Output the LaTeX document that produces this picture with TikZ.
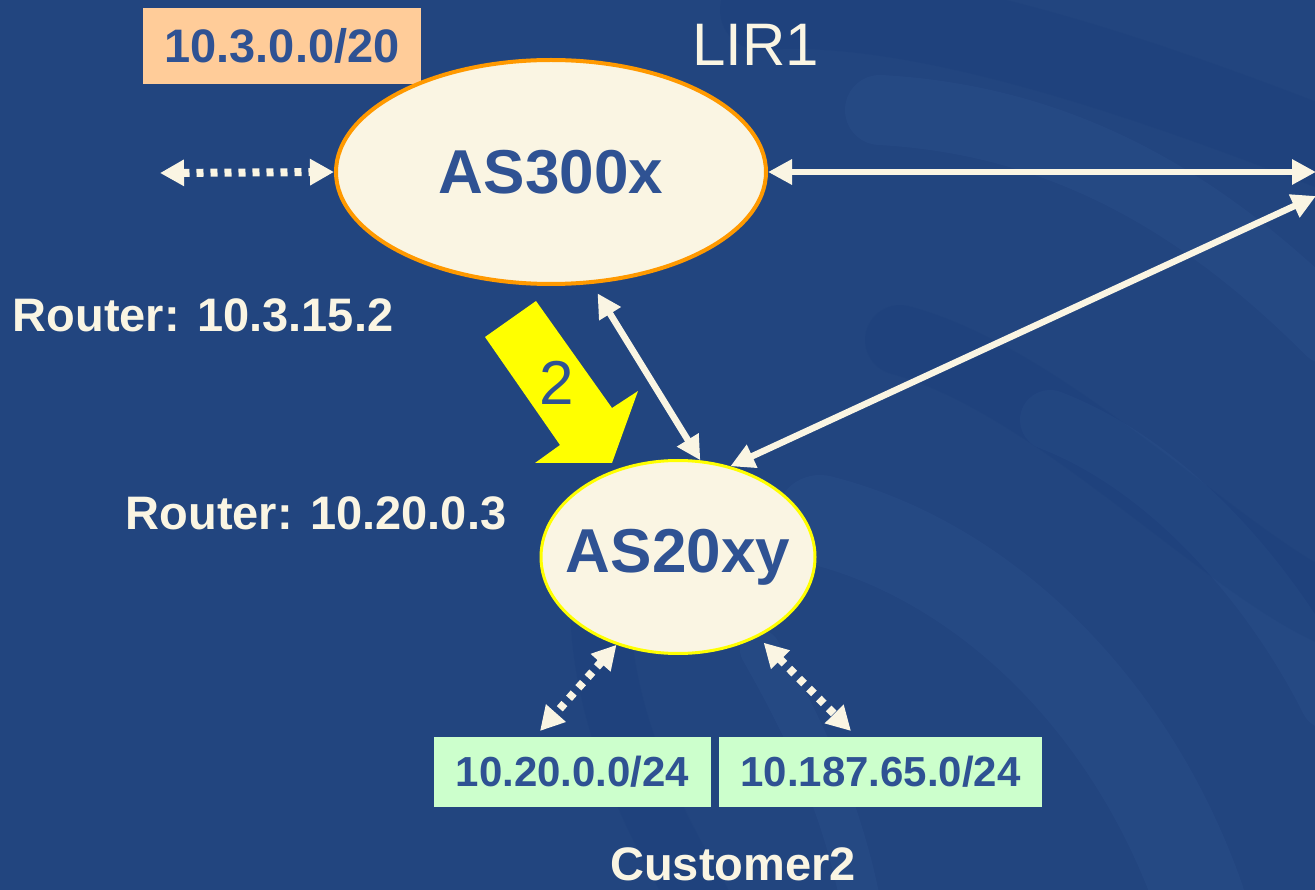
\documentclass[tikz,border=0pt]{standalone}
\usepackage{fontspec}
\setmainfont{Liberation Sans}
\usetikzlibrary{arrows.meta,shapes.geometric,calc}

\definecolor{slide}{HTML}{22457F}
\definecolor{slidedark}{HTML}{153876}
\definecolor{slidelight}{HTML}{3A5E9E}
\definecolor{cream}{HTML}{FAF5E3}
\definecolor{ink}{HTML}{2F5293}
\definecolor{peach}{HTML}{FFCC99}
\definecolor{mint}{HTML}{CCFFCC}
\definecolor{asorange}{HTML}{FF9900}
\definecolor{hiyellow}{HTML}{FFFF00}

\newcommand{\fs}[1]{\fontsize{#1}{#1}\selectfont}
% centred text that does not widen its ellipse
\newcommand{\astext}[1]{\makebox[0pt]{#1}}

\tikzset{
  asnode/.style={ellipse, fill=cream, inner sep=0pt, text=ink,
                 font=\fs{62}\bfseries},
  netbox/.style={rectangle, inner sep=0pt, text=ink, font=\fs{42}\bfseries},
  captext/.style={text=cream, inner sep=0pt, font=\fs{47}\bfseries},
  solidlink/.style={draw=cream, line width=6.5pt, {Triangle[length=24pt,width=24pt]}-{Triangle[length=24pt,width=24pt]}},
  dotlink/.style={draw=cream, line width=8pt, dash pattern=on 7pt off 7pt,
                  {Triangle[length=24pt,width=25pt]}-{Triangle[length=24pt,width=25pt]}},
  swirl/.style={line cap=round, opacity=0.16},
}

\begin{document}
\begin{tikzpicture}[x=1pt,y=-1pt]
\useasboundingbox (0,0) rectangle (1315,890);
\fill[slide] (0,0) rectangle (1315,890);

% soft swirls of the slide background
\begin{scope}
  \clip (0,0) rectangle (1315,890);
  \draw[swirl, slidelight, line width=70pt] (880,110) .. controls (1060,120) and (1200,200) .. (1330,330);
  \draw[swirl, slidelight, line width=90pt] (820,520) .. controls (980,560) and (1130,700) .. (1200,900);
  \draw[swirl, slidelight, line width=60pt] (1050,420) .. controls (1180,470) and (1280,600) .. (1330,700);
  \draw[swirl, slidedark, line width=80pt] (760,10) .. controls (900,0) and (1100,60) .. (1330,150);
  \draw[swirl, slidedark, line width=70pt] (900,340) .. controls (1050,380) and (1220,560) .. (1330,610);
  \draw[swirl, slidedark, line width=60pt] (600,600) .. controls (600,700) and (640,800) .. (700,900);
  \draw[swirl, slidelight, line width=40pt] (760,650) .. controls (800,720) and (840,800) .. (860,900);
\end{scope}

% address blocks
\node[netbox, fill=peach, minimum width=278pt, minimum height=76pt, font=\fs{47}\bfseries]
  (lirnet) at (282,46) {10.3.0.0/20};
\node[netbox, fill=mint, minimum width=277pt, minimum height=70pt]
  (cust1) at (572.5,771.5) {10.20.0.0/24};
\node[netbox, fill=mint, minimum width=323pt, minimum height=70pt]
  (cust2) at (880.5,771.5) {10.187.65.0/24};

% autonomous systems
\node[asnode, draw=asorange, line width=4pt, minimum width=430pt, minimum height=224pt]
  (as300) at (551,172) {\astext{AS300x}};
\node[asnode, draw=hiyellow, line width=3pt, minimum width=274pt, minimum height=193pt]
  (as20) at (678,557) {\astext{AS20xy}};

% labels
\node[text=cream, inner sep=0pt, font=\fs{60}] (lir) at (756,45) {LIR1};
\node[captext] (r300) at (203,315) {Router: 10.3.15.2};
\node[captext] (r20) at (316,513) {Router: 10.20.0.3};
\node[captext] (cust) at (733,864) {Customer2};

% free ends of the links
\coordinate (west) at (160,173);
\coordinate (eastA) at (1316,172);
\coordinate (eastB) at (1316,196);
\coordinate (down1) at (540,731);
\coordinate (down2) at (851,731);

% links
\draw[solidlink] (as300.east) -- (eastA);
\draw[solidlink] (eastB) -- (as20.60);
\draw[solidlink, shorten <=11pt] (as300.-70) -- (as20.77);
\draw[dotlink] (west) -- (as300.west);
\draw[dotlink] (as20.235) -- (down1);
\draw[dotlink, shorten <=8pt] (as20.-45) -- (down2);

% announcement step
\fill[hiyellow] (485,337) -- (536,301) -- (612,408) -- (638,391) -- (612,463)
  -- (535,463) -- (560,445) -- cycle;
\node[text=ink, inner sep=0pt, font=\fs{62}] (step2) at (557,383) {2};
\end{tikzpicture}
\end{document}
